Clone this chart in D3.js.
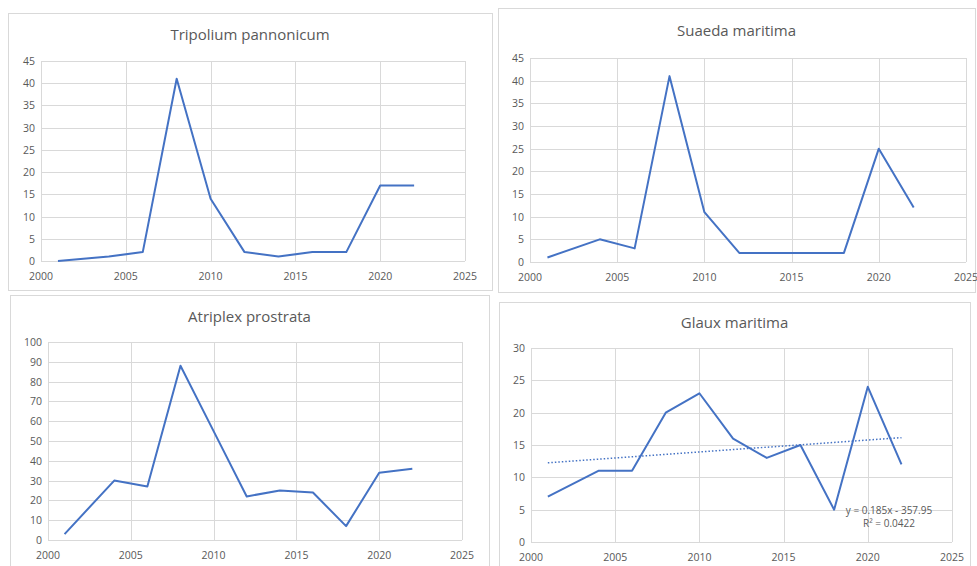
<!DOCTYPE html>
<html>
<head>
<meta charset="utf-8">
<script src="https://cdn.jsdelivr.net/npm/d3@7"></script>
<style>
  body { margin: 0; background: #fff; }
  text { font-family: "Open Sans", Lato, sans-serif; fill: #595959; }
</style>
</head>
<body>
<svg id="chart" width="977" height="566"></svg>
<script>
// survey years and counts per species
var years = [2001, 2004, 2006, 2008, 2010, 2012, 2014, 2016, 2018, 2020, 2022];
var tripolium = [0, 1, 2, 41, 14, 2, 1, 2, 2, 17, 17];
var suaeda = [1, 5, 3, 41, 11, 2, 2, 2, 2, 25, 12];
var atriplex = [3, 30, 27, 88, 55, 22, 25, 24, 7, 34, 36];
var glaux = [7, 11, 11, 20, 23, 16, 13, 15, 5, 24, 12];
var xTicks = [2000, 2005, 2010, 2015, 2020, 2025];
var trendLabel = ["y = 0.185x - 357.95", "R\u00B2 = 0.0422"];

var svg = d3.select("#chart");

// each panel: frame box, plot box, title position
var panels = [
    { title: "Tripolium pannonicum", values: tripolium, yMax: 45, yStep: 5,
      frame: [8, 13, 492, 290], plot: [41, 61, 465, 261], titleY: 40, xLabY: 280 },
    { title: "Suaeda maritima", values: suaeda, yMax: 45, yStep: 5,
      frame: [498, 8, 975, 292], plot: [530, 58, 966, 262], titleY: 36, xLabY: 281 },
    { title: "Atriplex prostrata", values: atriplex, yMax: 100, yStep: 10,
      frame: [10, 295, 489, 570], plot: [48, 342, 462, 540], titleY: 322, xLabY: 559 },
    { title: "Glaux maritima", values: glaux, yMax: 30, yStep: 5, trend: true,
      frame: [499, 302, 970, 570], plot: [531, 348, 952, 542], titleY: 328, xLabY: 561 }
];

panels.forEach(drawPanel);

function drawPanel(p) {
    var g = svg.append("g");
    var f = p.frame, b = p.plot;

    g.append("rect")
        .attr("x", f[0] + 0.5).attr("y", f[1] + 0.5)
        .attr("width", f[2] - f[0]).attr("height", f[3] - f[1])
        .attr("fill", "#fff").attr("stroke", "#d9d9d9");

    var x = d3.scaleLinear().domain([2000, 2025]).range([b[0], b[2]]);
    var y = d3.scaleLinear().domain([0, p.yMax]).range([b[3], b[1]]);
    var yTicks = d3.range(0, p.yMax + p.yStep / 2, p.yStep);

    // gridlines
    g.append("g").selectAll("line").data(yTicks).enter().append("line")
        .attr("x1", b[0]).attr("x2", b[2])
        .attr("y1", function(d) { return Math.round(y(d)) + 0.5; })
        .attr("y2", function(d) { return Math.round(y(d)) + 0.5; })
        .attr("stroke", "#d9d9d9").attr("stroke-width", 1);
    g.append("g").selectAll("line").data(xTicks).enter().append("line")
        .attr("y1", b[1]).attr("y2", b[3])
        .attr("x1", function(d) { return Math.round(x(d)) + 0.5; })
        .attr("x2", function(d) { return Math.round(x(d)) + 0.5; })
        .attr("stroke", "#d9d9d9").attr("stroke-width", 1);

    // tick labels
    g.append("g").selectAll("text").data(yTicks).enter().append("text")
        .attr("x", b[0] - 6).attr("y", function(d) { return y(d) + 4; })
        .attr("text-anchor", "end").attr("font-size", 10.5)
        .text(function(d) { return d; });
    g.append("g").selectAll("text").data(xTicks).enter().append("text")
        .attr("x", function(d) { return x(d); }).attr("y", p.xLabY)
        .attr("text-anchor", "middle").attr("font-size", 10.5)
        .text(function(d) { return d; });

    g.append("text")
        .attr("x", (f[0] + f[2]) / 2).attr("y", p.titleY)
        .attr("text-anchor", "middle").attr("font-size", 15)
        .text(p.title);

    var pts = years.map(function(yr, i) { return [yr, p.values[i]]; });
    var line = d3.line()
        .x(function(d) { return x(d[0]); })
        .y(function(d) { return y(d[1]); });

    g.append("path").datum(pts)
        .attr("d", line)
        .attr("fill", "none").attr("stroke", "#4472c4")
        .attr("stroke-width", 2).attr("stroke-linejoin", "round");

    if (p.trend) {
        // least squares fit over the same points
        var mx = d3.mean(pts, function(d) { return d[0]; });
        var my = d3.mean(pts, function(d) { return d[1]; });
        var sxy = d3.sum(pts, function(d) { return (d[0] - mx) * (d[1] - my); });
        var sxx = d3.sum(pts, function(d) { return (d[0] - mx) * (d[0] - mx); });
        var slope = sxy / sxx, icpt = my - slope * mx;
        var ends = d3.extent(years).map(function(yr) { return [yr, slope * yr + icpt]; });

        g.append("path").datum(ends)
            .attr("d", line)
            .attr("fill", "none").attr("stroke", "#4472c4")
            .attr("stroke-width", 1.5).attr("stroke-dasharray", "1.5,2");

        g.append("g").selectAll("text").data(trendLabel).enter().append("text")
            .attr("x", 889).attr("y", function(d, i) { return 514 + i * 13; })
            .attr("text-anchor", "middle").attr("font-size", 10)
            .text(function(d) { return d; });
    }
}
</script>
</body>
</html>
